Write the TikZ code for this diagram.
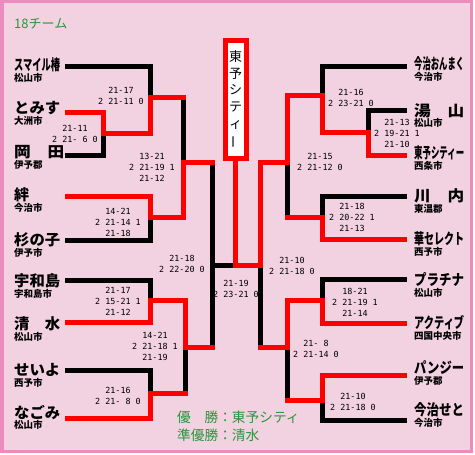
\documentclass[tikz,border=0pt]{standalone}
\usepackage{fontspec}
\setmainfont{Noto Sans CJK JP}
\newfontfamily\scorefont{DejaVu Sans Mono}
\usepackage{graphicx}
\usetikzlibrary{positioning}
\definecolor{bgpink}{RGB}{242,210,224}
\definecolor{framepink}{RGB}{236,140,190}
\definecolor{notegreen}{RGB}{40,150,60}
\newcommand\tname[2][46pt]{\resizebox{#1}{\height}{#2}}

\begin{document}
\begin{tikzpicture}[
    x=1pt, y=-1pt,
    team/.style={inner sep=0pt, anchor=west, font=\fontsize{15}{15}\selectfont\bfseries},
    city/.style={inner sep=0pt, font=\fontsize{9.5}{9.5}\selectfont\bfseries},
    score/.style={inner sep=0pt, align=center, font=\scorefont\fontsize{8.4}{11}\selectfont},
    note/.style={inner sep=0pt, anchor=west, text=notegreen},
    win/.style={draw=red, line width=5pt, line cap=rect},
    lose/.style={draw=black, line width=5pt, line cap=rect}
]
\useasboundingbox (0,0) rectangle (475,455);
\fill[white] (0,0) rectangle (475,455);
\draw[framepink, fill=bgpink, line width=3pt] (2,1.5) rectangle (471.5,451.5);

\node[note, font=\fontsize{13}{13}\selectfont] (title) at (14,24) {18チーム};

% left teams
\node[team] (smile) at (14,65) {\tname{スマイル椿}};
\node[team] (tomisu) at (14,108) {\tname{とみす}};
\node[team] (okada) at (14,152) {\tname[50pt]{岡　田}};
\node[team] (kizuna) at (14,195) {絆};
\node[team] (sugi) at (14,240) {\tname{杉の子}};
\node[team] (uwajima) at (14,281) {\tname{宇和島}};
\node[team] (shimizu) at (14,324) {\tname{清　水}};
\node[team] (seiyo) at (14,370) {\tname{せいよ}};
\node[team] (nagomi) at (14,412) {\tname{なごみ}};

\node[city, below right=1pt and 0pt of smile.south west] (smile-c) {松山市};
\node[city, below right=1pt and 0pt of tomisu.south west] (tomisu-c) {大洲市};
\node[city, below right=1pt and 0pt of okada.south west] (okada-c) {伊予郡};
\node[city, below right=1pt and 0pt of kizuna.south west] (kizuna-c) {今治市};
\node[city, below right=1pt and 0pt of sugi.south west] (sugi-c) {伊予市};
\node[city, below right=1pt and 0pt of uwajima.south west] (uwajima-c) {宇和島市};
\node[city, below right=1pt and 0pt of shimizu.south west] (shimizu-c) {松山市};
\node[city, below right=1pt and 0pt of seiyo.south west] (seiyo-c) {西予市};
\node[city, below right=1pt and 0pt of nagomi.south west] (nagomi-c) {松山市};

% right teams
\node[team] (onmaku) at (414,64) {\tname[50pt]{今治おんまく}};
\node[team] (yuyama) at (414,111) {\tname[50pt]{湯　山}};
\node[team] (toyo) at (414,153) {\tname[50pt]{東予シティー}};
\node[team] (kawauchi) at (414,196) {\tname[50pt]{川　内}};
\node[team] (hana) at (414,239) {\tname[50pt]{華セレクト}};
\node[team] (platina) at (414,280) {\tname[50pt]{プラチナ}};
\node[team] (active) at (414,323) {\tname[50pt]{アクティブ}};
\node[team] (pansy) at (414,368) {\tname[50pt]{パンジー}};
\node[team] (seto) at (414,410) {\tname[50pt]{今治せと}};

\node[city, below right=1pt and 0pt of onmaku.south west] (onmaku-c) {今治市};
\node[city, below right=0pt and 0pt of yuyama.south west] (yuyama-c) {松山市};
\node[city, below right=1pt and 0pt of toyo.south west] (toyo-c) {西条市};
\node[city, below right=1pt and 0pt of kawauchi.south west] (kawauchi-c) {東温郡};
\node[city, below right=1pt and 0pt of hana.south west] (hana-c) {西予市};
\node[city, below right=1pt and 0pt of platina.south west] (platina-c) {松山市};
\node[city, below right=1pt and 0pt of active.south west] (active-c) {四国中央市};
\node[city, below right=1pt and 0pt of pansy.south west] (pansy-c) {伊予郡};
\node[city, below right=1pt and 0pt of seto.south west] (seto-c) {今治市};

% line ends and junctions
\coordinate (smile-e) at (67.5,66);
\coordinate (tomisu-e) at (67.5,112);
\coordinate (okada-e) at (67.5,155);
\coordinate (kizuna-e) at (67.5,196);
\coordinate (sugi-e) at (67.5,240);
\coordinate (uwajima-e) at (67.5,280);
\coordinate (shimizu-e) at (67.5,322);
\coordinate (seiyo-e) at (67.5,370);
\coordinate (nagomi-e) at (67.5,418);
\coordinate (onmaku-e) at (404.5,66);
\coordinate (yuyama-e) at (404.5,110);
\coordinate (toyo-e) at (404.5,155);
\coordinate (kawauchi-e) at (404.5,196);
\coordinate (hana-e) at (404.5,239);
\coordinate (platina-e) at (404.5,279);
\coordinate (active-e) at (404.5,323);
\coordinate (pansy-e) at (404.5,375);
\coordinate (seto-e) at (404.5,420);

\coordinate (jA) at (103,133);
\coordinate (jB) at (150,97);
\coordinate (jC) at (150,217);
\coordinate (jD) at (183,162);
\coordinate (jE) at (150,300);
\coordinate (jF) at (150,393);
\coordinate (jG) at (185,347);
\coordinate (jH) at (212,265);
\coordinate (jFin) at (235.5,265);
\coordinate (jR) at (260,265);
\coordinate (jI) at (287,162);
\coordinate (jK) at (322,95);
\coordinate (jL) at (368,132);
\coordinate (jJ) at (322,217);
\coordinate (jM) at (322,300);
\coordinate (jN) at (287,347);
\coordinate (jP) at (322,400);

\node[draw=red, line width=5pt, fill=white, minimum width=21pt, minimum height=118pt,
      inner sep=0pt, align=center, font=\fontsize{13}{16.6}\selectfont]
      (champ) at (235.5,99.5) {東\\予\\シ\\テ\\ィ\\\rotatebox[origin=c]{90}{ー}};

% losing lines
\draw[lose] (smile-e) -| (jB);
\draw[lose] (okada-e) -| (jA);
\draw[lose] (sugi-e) -| (jC);
\draw[lose] (uwajima-e) -| (jE);
\draw[lose] (seiyo-e) -| (jF);
\draw[lose] (jB -| jD) -- (jD);
\draw[lose] (jF -| jG) -- (jG);
\draw[lose] (jD -| jH) -- (jG -| jH);
\draw[lose] (jH) -- (jFin);
\draw[lose] (jN -| jR) -- (jR);
\draw[lose] (onmaku-e) -| (jK);
\draw[lose] (yuyama-e) -| (jL);
\draw[lose] (kawauchi-e) -| (jJ);
\draw[lose] (jJ -| jI) -- (jI);
\draw[lose] (platina-e) -| (jM);
\draw[lose] (seto-e) -| (jP);
\draw[lose] (jP -| jN) -- (jN);

% winning lines
\draw[win] (tomisu-e) -| (jA);
\draw[win] (jA) -| (jB);
\draw[win] (jB) -- (jB -| jD);
\draw[win] (kizuna-e) -| (jC);
\draw[win] (jC) -| (jD);
\draw[win] (jD) -- (jD -| jH);
\draw[win] (shimizu-e) -| (jE);
\draw[win] (nagomi-e) -| (jF);
\draw[win] (jE) -| (jG);
\draw[win] (jF) -- (jF -| jG);
\draw[win] (jG) -- (jG -| jH);
\draw[win] (champ.south) -- (jFin);
\draw[win] (jFin) -- (jR);
\draw[win] (jI) -| (jR);
\draw[win] (jN) -- (jN -| jR);
\draw[win] (toyo-e) -| (jL);
\draw[win] (jL) -| (jK);
\draw[win] (jK) -| (jI);
\draw[win] (hana-e) -| (jJ);
\draw[win] (jJ) -- (jJ -| jI);
\draw[win] (active-e) -| (jM);
\draw[win] (jM) -| (jN);
\draw[win] (pansy-e) -| (jP);
\draw[win] (jP) -- (jP -| jN);

% scores
\node[score] (sA) at (75,133.5) {21-11\\2 21- 6 0};
\node[score] (sB) at (121,95.5) {21-17\\2 21-11 0};
\node[score] (sC) at (118,222) {14-21\\2 21-14 1\\21-18};
\node[score] (sD) at (152,167.5) {13-21\\2 21-19 1\\21-12};
\node[score] (sE) at (118,301) {21-17\\2 15-21 1\\21-12};
\node[score] (sF) at (118,395.5) {21-16\\2 21- 8 0};
\node[score] (sG) at (155,346.5) {14-21\\2 21-18 1\\21-19};
\node[score] (sH) at (182,263.5) {21-18\\2 22-20 0};
\node[score] (sFin) at (236,288.5) {21-19\\2 23-21 0};
\node[score] (sR) at (292,265.5) {21-10\\2 21-18 0};
\node[score] (sI) at (320,162) {21-15\\2 21-12 0};
\node[score] (sK) at (351,97.5) {21-16\\2 23-21 0};
\node[score] (sL) at (397,133) {21-13\\2 19-21 1\\21-10};
\node[score] (sJ) at (352,217.5) {21-18\\2 20-22 1\\21-13};
\node[score] (sM) at (355,302) {18-21\\2 21-19 1\\21-14};
\node[score] (sN) at (316,348.5) {21- 8\\2 21-14 0};
\node[score] (sP) at (353,401.5) {21-10\\2 21-18 0};

\node[note, font=\fontsize{13.7}{13.7}\selectfont] (winner) at (177,417) {優　勝：東予シティ};
\node[note, font=\fontsize{13.7}{13.7}\selectfont] (runnerup) at (177,435) {準優勝：清水};

\end{tikzpicture}
\end{document}
